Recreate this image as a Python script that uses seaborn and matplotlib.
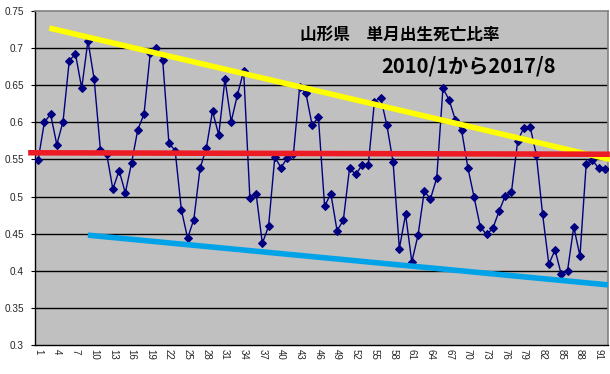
import matplotlib
matplotlib.use("Agg")
import matplotlib.pyplot as plt
import seaborn as sns
import numpy as np
import pandas as pd

# ---- data ----
months = list(range(1, 93))
ratio = [0.549, 0.600, 0.611, 0.570, 0.601, 0.683, 0.692, 0.646, 0.710, 0.658,
         0.563, 0.558, 0.510, 0.535, 0.505, 0.545, 0.590, 0.611, 0.693, 0.700,
         0.684, 0.572, 0.562, 0.482, 0.444, 0.469, 0.538, 0.565, 0.615, 0.583,
         0.658, 0.601, 0.637, 0.669, 0.498, 0.504, 0.437, 0.460, 0.553, 0.539,
         0.552, 0.558, 0.648, 0.639, 0.596, 0.607, 0.487, 0.504, 0.454, 0.468,
         0.538, 0.530, 0.542, 0.542, 0.628, 0.633, 0.596, 0.546, 0.430, 0.476,
         0.412, 0.448, 0.507, 0.497, 0.525, 0.646, 0.630, 0.603, 0.589, 0.539,
         0.499, 0.459, 0.449, 0.457, 0.480, 0.501, 0.506, 0.575, 0.593, 0.594,
         0.556, 0.476, 0.409, 0.428, 0.395, 0.400, 0.459, 0.420, 0.544, 0.549,
         0.538, 0.537]
xtick_vals = list(range(1, 93, 3))
ytick_vals = [0.3, 0.35, 0.4, 0.45, 0.5, 0.55, 0.6, 0.65, 0.7, 0.75]

yellow_x = [2.8, 92.8]
yellow_y = [0.727, 0.550]
red_x = [-0.6, 92.8]
red_y = [0.559, 0.557]
blue_x = [9.0, 92.5]
blue_y = [0.448, 0.381]

title1 = "山形県　単月出生死亡比率"
title2 = "2010/1から2017/8"

df = pd.DataFrame({"month": months, "ratio": ratio})

sns.set_style("white")
plt.rcParams['font.family'] = ['Liberation Sans', 'DejaVu Sans']

fig = plt.figure(figsize=(6.10, 3.74), dpi=100)
ax = fig.add_axes([35/610, 29/374, (608-35)/610, (345-11)/374])
ax.set_facecolor("#C0C0C0")

for yv in ytick_vals[1:-1]:
    ax.axhline(yv, color="black", lw=1.0, zorder=1)

sns.lineplot(data=df, x="month", y="ratio", ax=ax, color="#000080", lw=1.0,
             marker="D", markersize=3.8, markeredgecolor="#000080",
             markerfacecolor="#000080", zorder=3)

ax.plot(yellow_x, yellow_y, color="#FFFF00", lw=4.0, solid_capstyle="butt",
        zorder=4, clip_on=False)
ax.plot(red_x, red_y, color="#ED1C24", lw=4.0, solid_capstyle="butt",
        zorder=4, clip_on=False)
ax.plot(blue_x, blue_y, color="#00A2E8", lw=4.0, solid_capstyle="butt",
        zorder=4, clip_on=False)

ax.set_xlim(0.5, 92.5)
ax.set_ylim(0.3, 0.75)
ax.set_xticks(xtick_vals)
ax.set_xticklabels([str(v) for v in xtick_vals], rotation=-90, fontsize=7)
ax.set_xticks(np.arange(0.5, 93, 1.0), minor=True)
ax.set_yticks(ytick_vals)
ax.set_yticklabels([f"{v:g}" for v in ytick_vals], fontsize=7.2)
ax.tick_params(axis="x", which="major", length=0, pad=3)
ax.tick_params(axis="x", which="minor", direction="in", length=3, width=0.8,
               color="black")
ax.tick_params(axis="y", which="major", direction="out", length=3, width=0.8,
               color="black", pad=5, left=True)
ax.set_xlabel("")
ax.set_ylabel("")

for side in ["left", "bottom"]:
    ax.spines[side].set_color("black")
    ax.spines[side].set_linewidth(1.0)
for side in ["top", "right"]:
    ax.spines[side].set_color("#808080")
    ax.spines[side].set_linewidth(1.2)

cjk = ['Noto Sans CJK JP', 'DejaVu Sans']
fig.text(300/610, 1 - 35/374, title1, fontsize=12, fontweight="bold",
         family=cjk, ha="left", va="center", color="black", zorder=10)
fig.text(381/610, 1 - 66/374, title2, fontsize=14.5, fontweight="bold",
         family=cjk, ha="left", va="center", color="black", zorder=10)

fig.savefig("out.png", dpi=100)
